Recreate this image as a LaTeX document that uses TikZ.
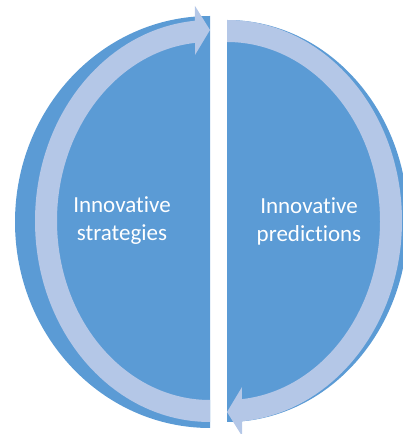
\documentclass[tikz,border=0pt]{standalone}
\usepackage{fontspec}
\setmainfont{Carlito}[Ligatures=NoCommon]
\definecolor{halfblue}{HTML}{5B9BD5}
\definecolor{bandblue}{HTML}{B4C7E7}
\tikzset{
half/.style={fill=halfblue},
band/.style={fill=bandblue},
halftext/.style={text=white, align=center, font=\fontsize{23}{28}\selectfont}
}

\begin{document}
\begin{tikzpicture}[x=1pt,y=1pt]
\useasboundingbox (0,0) rectangle (403,434);
%the two halves
\fill[half] (210,418) arc[start angle=90, end angle=270, x radius=195, y radius=206] -- cycle;
\fill[half] (227,414) arc[start angle=90, end angle=-90, x radius=181, y radius=201] -- cycle;
%left arrow, bottom round to top
\begin{scope}[shift={(210,213)}]
\fill[band] (270:175 and 201) arc[start angle=270, end angle=95, x radius=175, y radius=201]
 -- (-15,215) -- (0,191) -- (-15,166) -- (95.6:153 and 179)
 arc[start angle=95.6, end angle=270, x radius=153, y radius=179] -- cycle;
\end{scope}
%right arrow, top round to bottom
\begin{scope}[shift={(227,213)}]
\fill[band] (90:175 and 201) arc[start angle=90, end angle=-85, x radius=175, y radius=201]
 -- (15,-215) -- (0,-191) -- (15,-166) -- (-84.4:153 and 179)
 arc[start angle=-84.4, end angle=90, x radius=153, y radius=179] -- cycle;
\end{scope}
%labels
\node[halftext] (strategies) at (122,213) {Innovative\\strategies};
\node[halftext] (predictions) at (309,213) {Innovative\\predictions};
\end{tikzpicture}
\end{document}
